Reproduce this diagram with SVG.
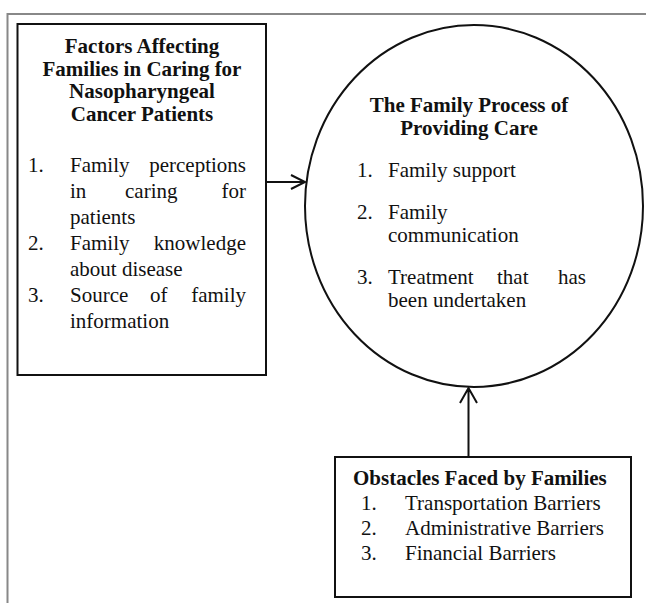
<svg xmlns="http://www.w3.org/2000/svg" width="646" height="603" viewBox="0 0 646 603">
<style>
.t{font-family:"Liberation Serif","Times New Roman",serif;font-size:21px;fill:#111}
.b{font-weight:bold}
.m{text-anchor:middle}
.e{text-anchor:end}
.box{fill:none;stroke:#111;stroke-width:2}
.frame{fill:none;stroke:#888;stroke-width:2}
.con{fill:none;stroke:#111;stroke-width:2}
</style>
<rect width="646" height="603" fill="#fff"/>
<path class="frame" d="M7.5,603 V14 H646"/>
<g id="factors">
<rect class="box" x="17.5" y="24" width="248.5" height="351"/>
<text class="t b m" x="142" y="53">Factors Affecting</text>
<text class="t b m" x="142" y="75.5">Families in Caring for</text>
<text class="t b m" x="142" y="98">Nasopharyngeal</text>
<text class="t b m" x="142" y="120.5">Cancer Patients</text>
<text class="t" x="28" y="172">1.</text>
<text class="t" x="70" y="172">Family</text>
<text class="t e" x="246" y="172">perceptions</text>
<text class="t" x="70" y="198">in</text>
<text class="t" x="125" y="198">caring</text>
<text class="t e" x="246" y="198">for</text>
<text class="t" x="70" y="224">patients</text>
<text class="t" x="28" y="250">2.</text>
<text class="t" x="70" y="250">Family</text>
<text class="t e" x="246" y="250">knowledge</text>
<text class="t" x="70" y="276">about disease</text>
<text class="t" x="28" y="302">3.</text>
<text class="t" x="70" y="302">Source</text>
<text class="t" x="150" y="302">of</text>
<text class="t e" x="246" y="302">family</text>
<text class="t" x="70" y="328">information</text>
</g>
<g id="process">
<ellipse class="box" cx="474" cy="206" rx="169" ry="181" stroke-width="1.6"/>
<text class="t b m" x="469" y="112">The Family Process of</text>
<text class="t b m" x="469" y="135">Providing Care</text>
<text class="t" x="357" y="177">1.</text>
<text class="t" x="388" y="177">Family support</text>
<text class="t" x="357" y="219">2.</text>
<text class="t" x="388" y="219">Family</text>
<text class="t" x="388" y="242">communication</text>
<text class="t" x="357" y="284">3.</text>
<text class="t" x="388" y="284">Treatment</text>
<text class="t" x="497" y="284">that</text>
<text class="t e" x="586" y="284">has</text>
<text class="t" x="388" y="307">been undertaken</text>
</g>
<g id="obstacles">
<rect class="box" x="335" y="457" width="296" height="140"/>
<text class="t b" x="353" y="485">Obstacles Faced by Families</text>
<text class="t" x="361" y="510">1.</text>
<text class="t" x="405" y="510">Transportation Barriers</text>
<text class="t" x="361" y="535">2.</text>
<text class="t" x="405" y="535">Administrative Barriers</text>
<text class="t" x="361" y="560">3.</text>
<text class="t" x="405" y="560">Financial Barriers</text>
</g>
<g id="connectors">
<path class="con" d="M266,182 H305 M291,175 L305,182 L291,189"/>
<path class="con" d="M468.5,457 V388 M460,403 L468.5,388 L477,403"/>
</g>
</svg>
